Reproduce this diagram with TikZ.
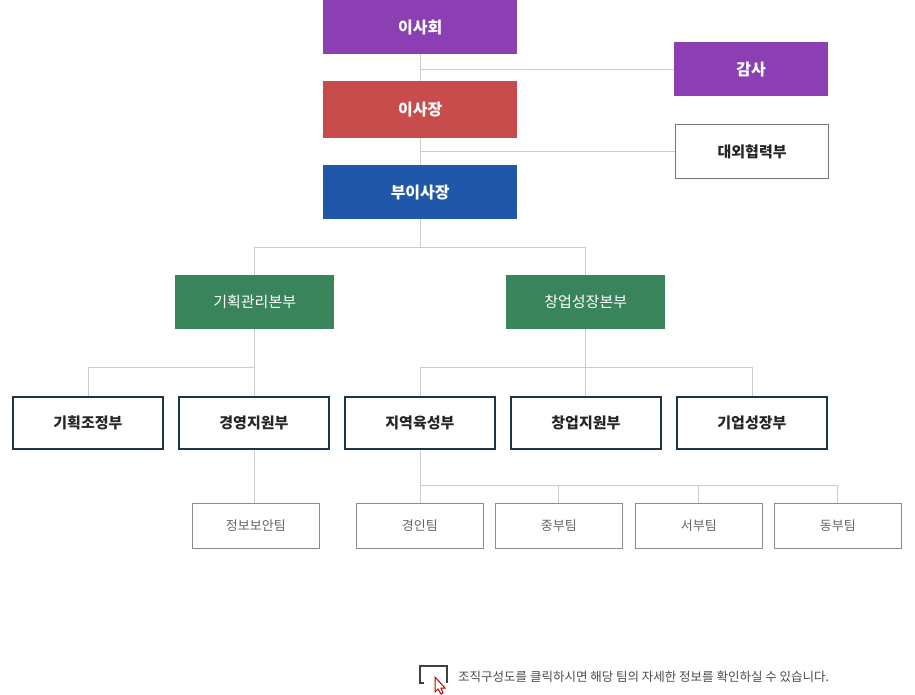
\documentclass[tikz,border=0pt]{standalone}
\usepackage{fontspec}
\setmainfont{Noto Sans CJK KR}
\begin{document}
\begin{tikzpicture}[x=1pt,y=-1pt,
  fb/.style={draw=none,text=white,font=\bfseries\fontsize{16}{18}\selectfont,inner sep=0,anchor=north west},
  wb/.style={draw=#1,fill=white,line width=1.8pt,text=black!85,font=\bfseries\fontsize{15}{18}\selectfont,inner sep=0,anchor=north west},
  tb/.style={draw=black!45,fill=white,line width=0.7pt,text=black!60,font=\fontsize{13}{15}\selectfont,inner sep=0,anchor=north west},
  ln/.style={draw=black!20,line width=0.8pt}]
\useasboundingbox (0,0) rectangle (915,695);
\definecolor{pur}{HTML}{8C3FB2}\definecolor{redb}{HTML}{C84C4C}
\definecolor{blu}{HTML}{2057A8}\definecolor{grn}{HTML}{39845A}\definecolor{dk}{HTML}{1E3448}
\node[fb,fill=pur,minimum width=194,minimum height=54] (a) at (323,0) {이사회};
\node[fb,fill=pur,minimum width=154,minimum height=54] (b) at (674,42) {감사};
\node[fb,fill=redb,minimum width=194,minimum height=57] (c) at (323,81) {이사장};
\node[wb=black!55,line width=1.2pt,minimum width=153,minimum height=54] (d) at (675,124) {대외협력부};
\node[fb,fill=blu,minimum width=194,minimum height=54] (e) at (323,165) {부이사장};
\node[fb,fill=grn,minimum width=159,minimum height=54,font=\fontsize{15}{18}\selectfont] (f) at (175,275) {기획관리본부};
\node[fb,fill=grn,minimum width=159,minimum height=54,font=\fontsize{15}{18}\selectfont] (g) at (506,275) {창업성장본부};
\foreach \n/\x/\t in {h1/12/기획조정부,h2/178/경영지원부,h3/344/지역육성부,h4/510/창업지원부,h5/676/기업성장부}
  \node[wb=dk,minimum width=150,minimum height=52] (\n) at (\x,396) {\t};
\foreach \n/\x/\t in {k1/192/정보보안팀,k2/356/경인팀,k3/495/중부팀,k4/635/서부팀,k5/774/동부팀}
  \node[tb,minimum width=127,minimum height=45] (\n) at (\x,503) {\t};
\coordinate (j1) at (a.center |- 0,69); \coordinate (j2) at (a.center |- 0,151);
\coordinate (j3) at (a.center |- 0,247); \coordinate (j4) at (f.center |- 0,367);
\coordinate (j5) at (g.center |- 0,367); \coordinate (j6) at (h3.center |- 0,485);
\path[ln] (a.south) -- (c.north);
\path[ln] (j1) -- (b.west |- j1);
\path[ln] (c.south) -- (e.north);
\path[ln] (j2) -- (d.west |- j2);
\path[ln] (e.south) -- (j3) -| (f.north);
\path[ln] (j3) -| (g.north);
\path[ln] (f.south) -- (j4) -| (h1.north); \path[ln] (j4) -- (j4 |- h2.north);
\path[ln] (g.south) -- (j5) -| (h3.north); \path[ln] (j5) -- (j5 |- h4.north); \path[ln] (j5) -| (h5.north);
\path[ln] (h2.south) -- (h2.south |- k1.north);
\path[ln] (h3.south) -- (j6) -- (j6 |- k2.north); \path[ln] (j6) -| (k3.north); \path[ln] (j6) -| (k4.north); \path[ln] (j6) -| (k5.north);
% footer
\draw[black!75,line width=1.6pt] (424,683) -- (420,683) -- (420,666) -- (447,666) -- (447,683);
\draw[red!75!black,fill=white,line width=1pt] (435,677) -- (435,692) -- (438,689) -- (441,694) -- (443,693) -- (441,688) -- (445,688) -- cycle;
\node[anchor=west,text=black!70,font=\fontsize{12.5}{14}\selectfont,inner sep=0] (ft) at (458,677) {조직구성도를 클릭하시면 해당 팀의 자세한 정보를 확인하실 수 있습니다.};
\end{tikzpicture}
\end{document}
